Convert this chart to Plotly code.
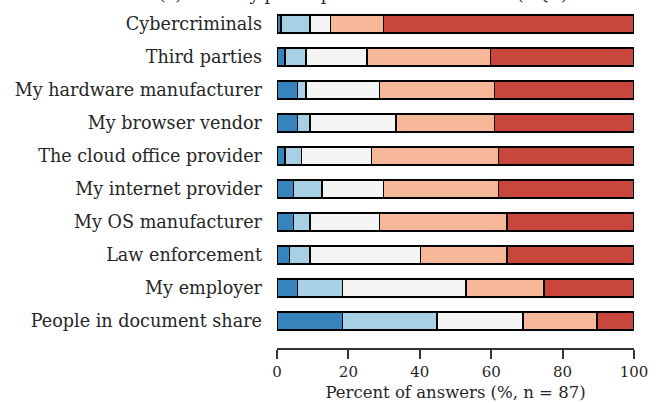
import plotly.graph_objects as go

categories = ["Cybercriminals", "Third parties", "My hardware manufacturer",
              "My browser vendor", "The cloud office provider", "My internet provider",
              "My OS manufacturer", "Law enforcement", "My employer",
              "People in document share"]
n_total = 87
counts_1 = [1, 2, 5, 5, 2, 4, 4, 3, 5, 16]
counts_2 = [7, 5, 2, 3, 4, 7, 4, 5, 11, 23]
counts_3 = [5, 15, 18, 21, 17, 15, 17, 27, 30, 21]
counts_4 = [13, 30, 28, 24, 31, 28, 31, 21, 19, 18]
counts_5 = [61, 35, 34, 34, 33, 33, 31, 31, 22, 9]
series = [counts_1, counts_2, counts_3, counts_4, counts_5]
colors = ["#3783bb", "#a7d0e4", "#f5f5f5", "#f7b799", "#c9463d"]
tick_vals = [0, 20, 40, 60, 80, 100]
title_text = "(c) Trust by participants in other entities (RQ3)"
x_title = "Percent of answers (%, n = 87)"

fig = go.Figure()
for vals, col in zip(series, colors):
    fig.add_trace(go.Bar(
        y=categories, x=[v * 100.0 / n_total for v in vals], orientation="h",
        marker=dict(color=col, line=dict(color="black", width=1.6)),
        width=0.55, showlegend=False, hoverinfo="skip"))

font_family = "DejaVu Serif"
fig.update_layout(
    barmode="stack", width=658, height=403,
    margin=dict(l=277, r=24, t=0, b=55),
    paper_bgcolor="white", plot_bgcolor="white",
    font=dict(family=font_family, color="#262626", size=15),
    xaxis=dict(range=[0, 100], tickvals=tick_vals, showgrid=False, zeroline=False,
               showline=True, linecolor="#333333", linewidth=1.5,
               ticks="outside", ticklen=9, tickwidth=1.5, tickcolor="#333333",
               tickfont=dict(size=15), title=dict(text=x_title, font=dict(size=16.5), standoff=7)),
    yaxis=dict(categoryorder="array", categoryarray=categories,
               range=[9.818, -0.727], showgrid=False, zeroline=False, showline=False,
               ticks="", tickfont=dict(size=17.6), ticklabelstandoff=14),
)
fig.add_annotation(text=title_text, xref="paper", yref="paper", x=0.241, y=1,
                   xanchor="center", yanchor="bottom", yshift=-6, showarrow=False,
                   font=dict(size=17, family=font_family, color="#262626"))
fig.write_html("out.html", config={"displayModeBar": False},
               post_script="document.body.style.margin='0px';")
